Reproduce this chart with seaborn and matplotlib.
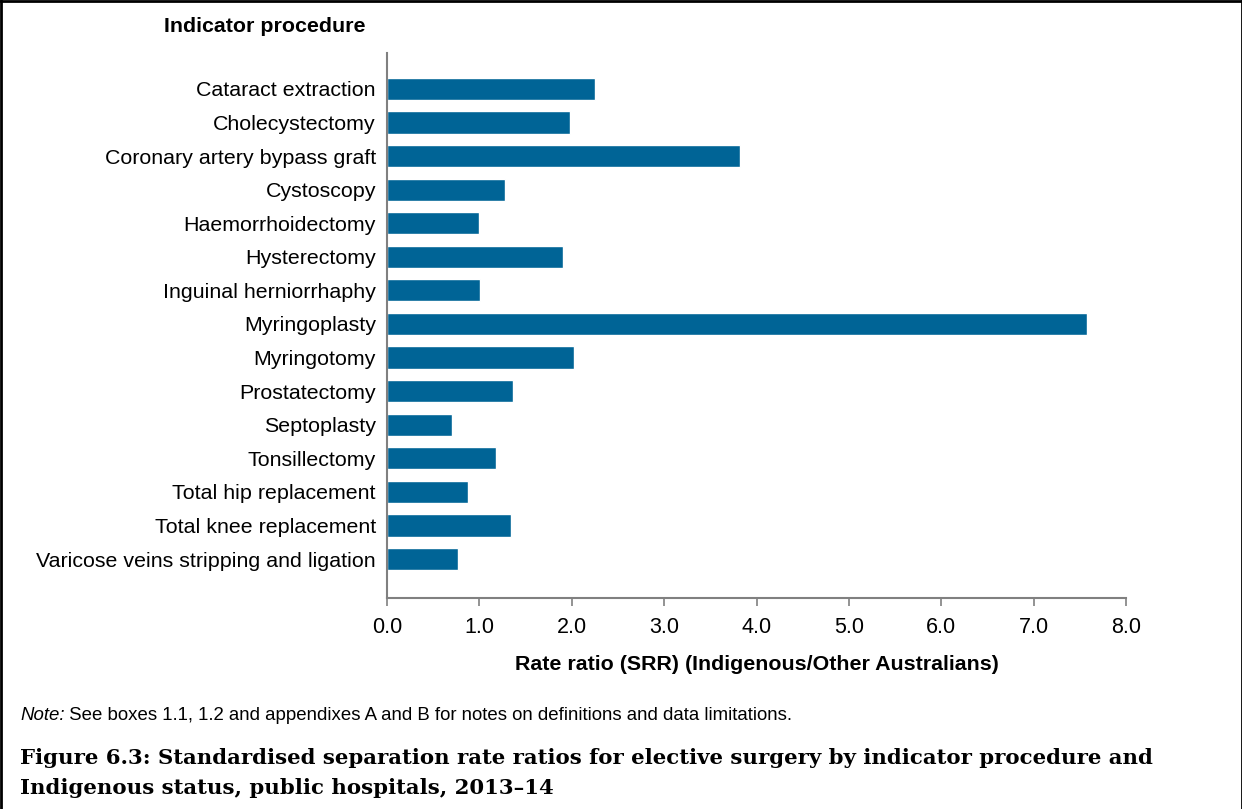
import matplotlib
matplotlib.use("Agg")
import matplotlib.pyplot as plt
import seaborn as sns
import pandas as pd
from matplotlib.lines import Line2D
from matplotlib.ticker import FormatStrFormatter

procedures = [
    "Cataract extraction",
    "Cholecystectomy",
    "Coronary artery bypass graft",
    "Cystoscopy",
    "Haemorrhoidectomy",
    "Hysterectomy",
    "Inguinal herniorrhaphy",
    "Myringoplasty",
    "Myringotomy",
    "Prostatectomy",
    "Septoplasty",
    "Tonsillectomy",
    "Total hip replacement",
    "Total knee replacement",
    "Varicose veins stripping and ligation",
]
srr = [2.25, 1.98, 3.82, 1.28, 1.00, 1.90, 1.01, 7.58, 2.02, 1.36, 0.70, 1.18, 0.88, 1.34, 0.77]
x_ticks = [0, 1, 2, 3, 4, 5, 6, 7, 8]

header_text = "Indicator procedure"
xlabel_text = "Rate ratio (SRR) (Indigenous/Other Australians)"
note_label = "Note:"
note_text = " See boxes 1.1, 1.2 and appendixes A and B for notes on definitions and data limitations."
caption_lines = [
    "Figure 6.3: Standardised separation rate ratios for elective surgery by indicator procedure and",
    "Indigenous status, public hospitals, 2013\u201314",
]

sns.set_theme(style="white")
plt.rcParams['font.family'] = ['Liberation Sans', 'DejaVu Sans']

W, H = 1242, 809
fig = plt.figure(figsize=(W / 100, H / 100), dpi=100)
fig.patch.set_facecolor("white")

ax_left, ax_right, ax_top, ax_bottom = 387, 1126, 53, 598
ax = fig.add_axes([ax_left / W, 1 - ax_bottom / H, (ax_right - ax_left) / W, (ax_bottom - ax_top) / H])

df = pd.DataFrame({"procedure": procedures, "srr": srr})
sns.barplot(data=df, x="srr", y="procedure", orient="h", color="#006496",
            saturation=1, width=0.66, ax=ax, order=procedures)

ax.set_xlim(0, 8)
ax.set_ylim(15.16, -1.07)
ax.set_xticks(x_ticks)
ax.xaxis.set_major_formatter(FormatStrFormatter("%.1f"))
ax.set_xlabel("")
ax.set_ylabel("")
for s in ["top", "right"]:
    ax.spines[s].set_visible(False)
for s in ["left", "bottom"]:
    ax.spines[s].set_color("#808080")
    ax.spines[s].set_linewidth(1.5)
ax.tick_params(axis="x", direction="out", length=6, width=1.2, color="#808080",
               labelsize=15.5, labelcolor="black", pad=8, bottom=True)
ax.tick_params(axis="y", length=0, labelsize=15.4, labelcolor="black", pad=8)
ax.grid(False)

fig.text(366 / W, 1 - 26 / H, header_text, ha="right", va="center",
         fontsize=15.4, fontweight="bold", color="black")
fig.text(757 / W, 1 - 664 / H, xlabel_text, ha="center", va="center",
         fontsize=15.4, fontweight="bold", color="black")

fig.canvas.draw()
renderer = fig.canvas.get_renderer()
t1 = fig.text(20 / W, 1 - 716 / H, note_label, ha="left", va="center",
              fontsize=13.4, fontstyle="italic", color="black")
bb = t1.get_window_extent(renderer=renderer)
fig.text(bb.x1 / W, 1 - 716 / H, note_text, ha="left", va="center",
         fontsize=13.4, color="black")

for i, line in enumerate(caption_lines):
    fig.text(20 / W, 1 - (758 + 30 * i) / H, line, ha="left", va="center",
             fontsize=15.3, fontweight="bold", family="DejaVu Serif", color="black")

lw = 2
fig.add_artist(Line2D([0.5 / W, 0.5 / W], [0, 1], color="black", lw=lw, transform=fig.transFigure))
fig.add_artist(Line2D([1 - 0.5 / W, 1 - 0.5 / W], [0, 1], color="black", lw=lw, transform=fig.transFigure))
fig.add_artist(Line2D([0, 1], [1 - 0.5 / H, 1 - 0.5 / H], color="black", lw=lw, transform=fig.transFigure))

fig.savefig("out.png", dpi=100, facecolor="white")
